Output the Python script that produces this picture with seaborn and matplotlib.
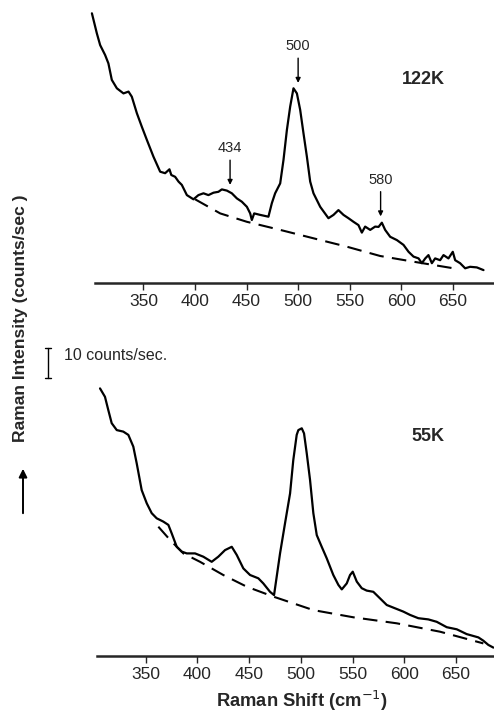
import matplotlib
matplotlib.use("Agg")
import matplotlib.pyplot as plt
import seaborn as sns
import pandas as pd
import numpy as np

# ---- data (Raman shift in cm^-1, intensity in counts/sec above axis) ----
shift_122 = [300, 304.8, 308, 312.8, 316, 319.3, 324.2, 330.6, 335.5, 338.7, 343.6, 348.4,
             353.3, 359.7, 366.2, 371, 375.2, 377, 380.7, 384, 387.2, 392.1, 398.5, 403.3,
             408.2, 413, 417.9, 422.7, 426, 430.9, 435.7, 440.6, 445.4, 450.3, 453.5, 455.1,
             457.4, 463.2, 471.2, 474.5, 477.7, 482.6, 485.8, 489.1, 492.3, 495.5, 498.8,
             502, 505.2, 508.5, 511.7, 514.9, 521.4, 529.4, 534.3, 539.1, 544, 548.8, 553.7,
             558.5, 561.8, 565, 569.9, 574.7, 578, 581.2, 584.4, 589.3, 595.8, 602.2, 607.1,
             611.9, 616.8, 620, 623.3, 626.4, 629.7, 632.9, 637.7, 641, 645.8, 650, 652.3,
             657.1, 662, 666.8, 673.3, 679.8]
int_122 = [89.9, 83.2, 79.3, 76, 73.2, 67.7, 64.9, 63.2, 63.8, 62.1, 56.6, 52.1,
           47.7, 42.1, 37.1, 36.6, 37.9, 36, 35.4, 33.8, 32.7, 29.3, 27.9, 29.3,
           29.9, 29.3, 30.1, 30.4, 31.2, 30.8, 29.9, 28.2, 27.1, 25.4, 23.2, 21,
           23.2, 22.7, 22.1, 26.6, 29.9, 33.2, 41, 51, 58.8, 64.9, 63.2,
           57.7, 49.9, 42.1, 33.8, 29.9, 25.4, 21.6, 22.7, 24.3, 22.7, 21.6, 20.4,
           19.3, 16.8, 18.8, 17.7, 18.8, 18.7, 20.1, 17.7, 15.4, 14.3, 12.7, 10.4,
           8.8, 8.2, 6.6, 8.2, 9.3, 6.6, 8.2, 7.6, 9.3, 8.2, 10.4, 7.6,
           6.6, 4.9, 5.4, 5.2, 4.3]
base_shift_122 = [400.1, 424.4, 450.3, 482.6, 514.9, 547.3, 579.6, 611.9, 650.7]
base_int_122 = [27.9, 23.2, 20.4, 17.7, 14.9, 12.1, 9.0, 7.1, 4.9]

shift_55 = [305.8, 310.6, 313.8, 317.1, 322, 328.3, 333.2, 338, 341.3, 346.1, 351, 355.8,
            360.6, 367, 371.9, 375.1, 380, 384.8, 389.7, 397.7, 405.7, 413.8, 420.2, 426.7,
            433.2, 438, 444.4, 450.9, 458.9, 463.7, 470.2, 474.1, 479.9, 484.7, 489.6, 492.7,
            496, 497.6, 500.9, 503.1, 505.7, 508.9, 512.1, 515.4, 520.2, 525, 531.4, 536.3,
            539.6, 544.4, 547.6, 550.2, 554.1, 558.9, 563.7, 570.1, 576.6, 583.1, 591.1,
            599.1, 605.6, 613.6, 623.3, 631.4, 641.1, 650.8, 660.4, 671.7, 676.5, 681.3, 686.2]
int_55 = [89.2, 86.4, 82, 77.6, 75.3, 74.8, 73.7, 69.8, 64.2, 55.3, 50.9, 47.6,
          45.9, 44.8, 43.7, 40.9, 36.4, 34.8, 34.2, 34.2, 33.1, 31.4, 33.1, 35.3,
          36.4, 33.7, 29.2, 27, 25.9, 24.2, 21.4, 20.3, 34.2, 44.2, 54.2, 65.3,
          73.7, 75.3, 75.9, 74.2, 67.6, 58.7, 47.6, 40.3, 36.4, 32.6, 27, 23.7,
          22.2, 24.2, 27, 28.1, 24.8, 22.6, 21.8, 21.4, 19.2, 17, 15.9,
          14.8, 13.7, 12.6, 12.2, 11.4, 9.6, 8.9, 7.3, 6.2, 5.1, 3.7, 2.8]
base_shift_55 = [362.2, 373.5, 386.4, 402.5, 425, 447.7, 473.4, 512.1, 550.8, 592.7, 634.6, 676.5]
base_int_55 = [43.1, 38.7, 34.2, 31.4, 27, 23.1, 19.8, 15.3, 12.9, 10.9, 8.1, 4.2]

tick_values = [350, 400, 450, 500, 550, 600, 650]
peak_labels_122 = [434, 500, 580]
peak_heights_122 = [31.5, 65.5, 21.0]

# ---- figure ----
sns.set_style("white")
plt.rcParams["font.family"] = ["Liberation Sans", "DejaVu Sans"]

W, H = 494, 714
fig = plt.figure(figsize=(W / 100, H / 100), dpi=100)

def add_axes(px_left, px_right, px_axis, px_top):
    return fig.add_axes([px_left / W, 1 - px_axis / H,
                         (px_right - px_left) / W, (px_axis - px_top) / H])

ax1 = add_axes(95, 493, 283, 1)
ax2 = add_axes(96.7, 494, 656, 374)

def draw(ax, sx, sy, bx, by, xlim):
    df = pd.DataFrame({"shift": sx, "intensity": sy})
    bdf = pd.DataFrame({"shift": bx, "intensity": by})
    sns.lineplot(data=df, x="shift", y="intensity", ax=ax, color="black",
                 linewidth=1.6, sort=False, estimator=None)
    sns.lineplot(data=bdf, x="shift", y="intensity", ax=ax, color="black",
                 linewidth=1.5, sort=False, estimator=None)
    ax.lines[-1].set_dashes([7, 4])
    for ln in ax.lines:
        ln.set_clip_on(False)
        ln.set_solid_joinstyle("round")
        ln.set_dash_joinstyle("round")
    ax.set_xlim(*xlim)
    ax.set_ylim(0, 94)
    for s in ["top", "right", "left"]:
        ax.spines[s].set_visible(False)
    ax.spines["bottom"].set_linewidth(1.8)
    ax.set_yticks([])
    ax.set_xticks(tick_values)
    ax.set_xticklabels([str(v) for v in tick_values])
    ax.tick_params(axis="x", direction="out", length=5, width=1.0,
                   labelsize=12.5, pad=3, bottom=True)
    ax.set_xlabel("")
    ax.set_ylabel("")
    ax.patch.set_alpha(0)

draw(ax1, shift_122, int_122, base_shift_122, base_int_122, (303, 689))
draw(ax2, shift_55, int_55, base_shift_55, base_int_55, (302.6, 686.8))

# peak annotations (122K)
for lab, h in zip(peak_labels_122, peak_heights_122):
    ax1.annotate(str(lab), xy=(lab, h + 1.2), xytext=(lab, h + 11),
                 ha="center", va="bottom", fontsize=10.5,
                 arrowprops=dict(arrowstyle="-|>", color="black", lw=1.0,
                                 mutation_scale=7, shrinkA=1, shrinkB=0))

fig.text(423.3 / W, 1 - 79 / H, "122K", ha="center", va="center",
         fontsize=13, fontweight="bold")
fig.text(428.3 / W, 1 - 436.7 / H, "55K", ha="center", va="center",
         fontsize=13, fontweight="bold")

# x label
fig.text(302 / W, 1 - 707 / H, "Raman Shift (cm$^{-1}$)", ha="center", va="baseline",
         fontsize=13.2, fontweight="bold")

# y label with arrow
fig.text(21 / W, 1 - 318 / H, "Raman Intensity (counts/sec )", rotation=90,
         ha="center", va="center", fontsize=12.6, fontweight="bold")
fig.add_artist(matplotlib.patches.FancyArrowPatch(
    (23 / W, 1 - 516 / H), (23 / W, 1 - 466 / H), transform=fig.transFigure,
    arrowstyle="-|>", mutation_scale=12, color="black", lw=1.4))

# scale bar: 10 counts/sec = 30 px
yb0, yb1 = 1 - 378.3 / H, 1 - 348.3 / H
xb = 48 / W
fig.add_artist(matplotlib.lines.Line2D([xb, xb], [yb0, yb1], color="black", lw=1.0,
                                       transform=fig.transFigure))
for yy in (yb0, yb1):
    fig.add_artist(matplotlib.lines.Line2D([xb - 3 / W, xb + 3 / W], [yy, yy],
                                           color="black", lw=1.0,
                                           transform=fig.transFigure))
fig.text(64 / W, 1 - 356 / H, "10 counts/sec.", ha="left", va="center",
         fontsize=11.5)

fig.savefig("out.png", dpi=100, facecolor="white")
